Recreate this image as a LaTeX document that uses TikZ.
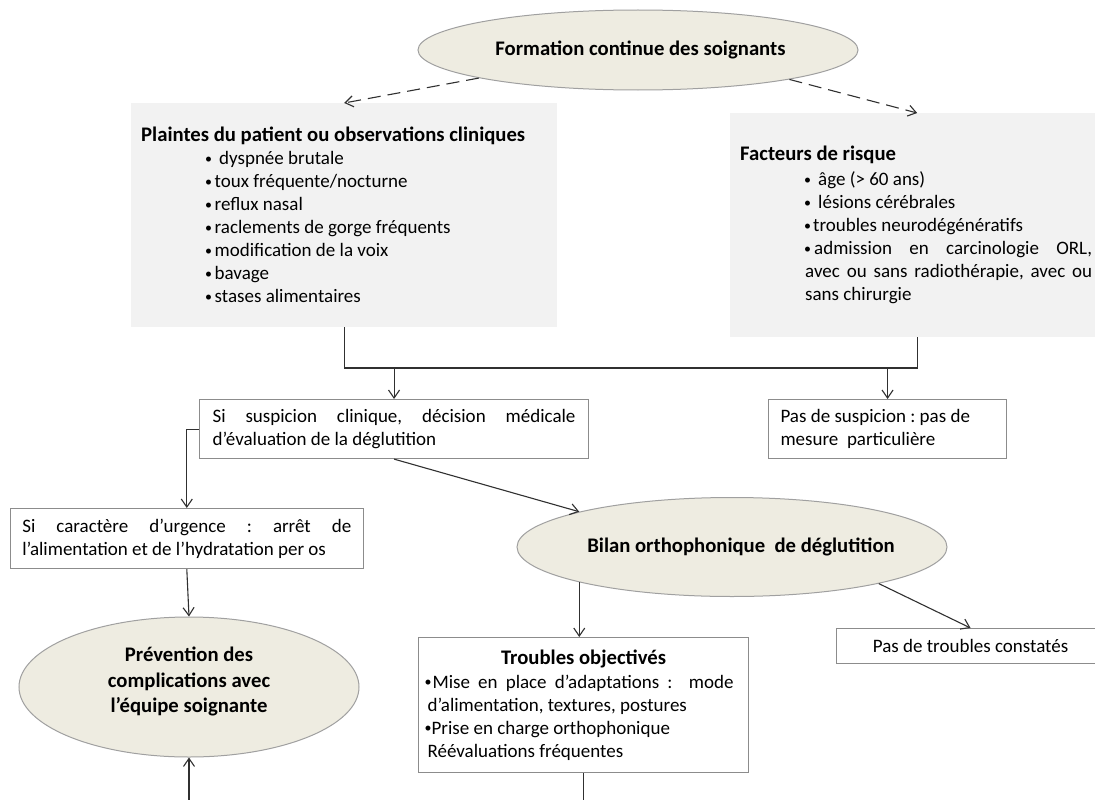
\documentclass[tikz,border=0pt]{standalone}
\usepackage{fontspec}
\setmainfont{Carlito}
\frenchspacing
\usetikzlibrary{shapes.geometric,arrows.meta}
\definecolor{tanfill}{HTML}{EEECE1}
\definecolor{ellline}{HTML}{A0A0A0}
\definecolor{panelfill}{HTML}{F2F2F2}
\definecolor{boxline}{HTML}{8C8C8C}
\definecolor{connc}{HTML}{303030}
\newcommand{\hdtxt}[1]{{\fontsize{20.7}{25.3}\selectfont\bfseries #1}}
\newcommand{\smdot}{\raisebox{1.5pt}{\fontsize{14}{14}\selectfont •}}
\newcommand{\bul}[1]{\makebox[#1][l]{\hspace{1pt}\smdot}}
\newcommand{\jline}[2]{\makebox[#1][s]{\spaceskip=0pt\xspaceskip=0pt #2}}
\begin{document}
\begin{tikzpicture}[x=1pt,y=-1pt,
  font=\fontsize{19}{23}\selectfont,
  every node/.append style={execute at begin node={\spaceskip=0pt\xspaceskip=0pt}},
  ell/.style={ellipse, draw=ellline, line width=1pt, fill=tanfill, inner sep=0pt},
  hd/.style={font=\fontsize{20.7}{25.3}\selectfont\bfseries, align=center},
  panel/.style={rectangle, fill=panelfill, inner ysep=0pt, anchor=north west, align=left},
  wbox/.style={rectangle, draw=boxline, line width=1.1pt, fill=white, inner ysep=0pt, anchor=north west, align=left},
  conn/.style={draw=connc, line width=1.1pt},
  arr/.style={conn, -{Straight Barb[length=8pt,width=11pt]}},
  darr/.style={arr, dash pattern=on 13pt off 7pt}]
\useasboundingbox (0,0) rectangle (1095,800);
\clip (0,0) rectangle (1095,800);
\fill[white] (0,0) rectangle (1095,800);

% nodes
\node[ell, hd, minimum width=440pt, minimum height=80pt] (form) at (638,50)
  {\makebox[0pt]{\hspace{5pt}Formation continue des soignants}};

\node[panel, minimum width=426pt, minimum height=224pt, text width=406pt, inner xsep=10pt] (plaintes) at (131,103)
  {\hdtxt{Plaintes du patient ou observations cliniques}\\
   \hspace*{63pt}\bul{15pt}dyspnée brutale\\
   \hspace*{63pt}\bul{10.5pt}toux fréquente/nocturne\\
   \hspace*{63pt}\bul{10.5pt}reflux nasal\\
   \hspace*{63pt}\bul{10.5pt}raclements de gorge fréquents\\
   \hspace*{63pt}\bul{10.5pt}modification de la voix\\
   \hspace*{63pt}\bul{10.5pt}bavage\\
   \hspace*{63pt}\bul{10.5pt}stases alimentaires};

\node[panel, minimum width=374pt, minimum height=224pt, text width=354pt, inner xsep=10pt] (fact) at (730,113)
  {\hdtxt{Facteurs de risque}\\[2pt]
   \hspace*{63pt}\bul{15pt}âge (> 60 ans)\\
   \hspace*{63pt}\bul{15pt}lésions cérébrales\\
   \hspace*{63pt}\bul{10pt}troubles neurodégénératifs\\
   \hspace*{63pt}\jline{289pt}{\bul{11pt}admission en carcinologie ORL,}\\
   \hspace*{65pt}\jline{287pt}{avec ou sans radiothérapie, avec ou}\\
   \hspace*{65pt}sans chirurgie};

\node[wbox, minimum width=389pt, minimum height=59pt, text width=363pt, inner xsep=13pt] (susp) at (199,399)
  {\jline{363pt}{Si suspicion clinique, décision médicale}\\
   d’évaluation de la déglutition};

\node[wbox, minimum width=238pt, minimum height=59pt, text width=214pt, inner xsep=12pt] (nosusp) at (768,399)
  {Pas de suspicion : pas de\\ mesure~~particulière};

\node[wbox, minimum width=353.5pt, minimum height=60pt, text width=329pt, inner xsep=12.25pt] (urg) at (9.5,508)
  {\jline{329pt}{Si caractère d’urgence : arrêt de}\\
   l’alimentation et de l’hydratation per os};

\node[ell, hd, minimum width=340pt, minimum height=140pt] (prev) at (189,687)
  {\makebox[0pt]{\raisebox{5pt}[\height][\depth]{\begin{tabular}{@{}c@{}}Prévention des\\ complications avec\\ l’équipe soignante\end{tabular}}}};

\node[ell, hd, minimum width=430pt, minimum height=99pt] (bilan) at (732,547)
  {\makebox[0pt]{\hspace{18pt}Bilan orthophonique~~de déglutition}};

\node[wbox, minimum width=330pt, minimum height=135pt, text width=312pt, inner xsep=9pt] (troub) at (418,637)
  {\makebox[312pt][c]{\hdtxt{Troubles objectivés}}\\[1pt]
   \hspace*{-4pt}\jline{310pt}{\bul{9pt}Mise en place d’adaptations :~~mode}\\
   d’alimentation, textures, postures\\
   \hspace*{-4pt}\bul{8pt}Prise en charge orthophonique\\
   Réévaluations fréquentes};

\node[wbox, minimum width=268pt, minimum height=35pt, inner xsep=0pt, align=center] (notr) at (836,628)
  {Pas de troubles constatés};

% connectors
\coordinate (hl) at (0,368);
\coordinate (bot) at (0,801);
\draw[darr] (form.190.5) -- (plaintes.north);
\draw[darr] (form.349.8) -- (fact.north);
\draw[conn] (plaintes.south) |- (fact.south |- hl) -- (fact.south);
\draw[arr] (susp.north |- hl) -- (susp.north);
\draw[arr] (nosusp.north |- hl) -- (nosusp.north);
\draw[arr] (susp.west) -| (urg.north);
\draw[arr] (urg.south) -- (prev.north);
\draw[arr] (prev.south |- bot) -- (prev.south);
\draw[arr] (susp.south) -- (bilan.167);
\draw[arr] (bilan.193.5) -- (bilan.193.5 |- troub.north);
\draw[arr] (bilan.346.8) -- (notr.north);
\draw[conn] (troub.south) -- (troub.south |- bot);
\end{tikzpicture}
\end{document}
